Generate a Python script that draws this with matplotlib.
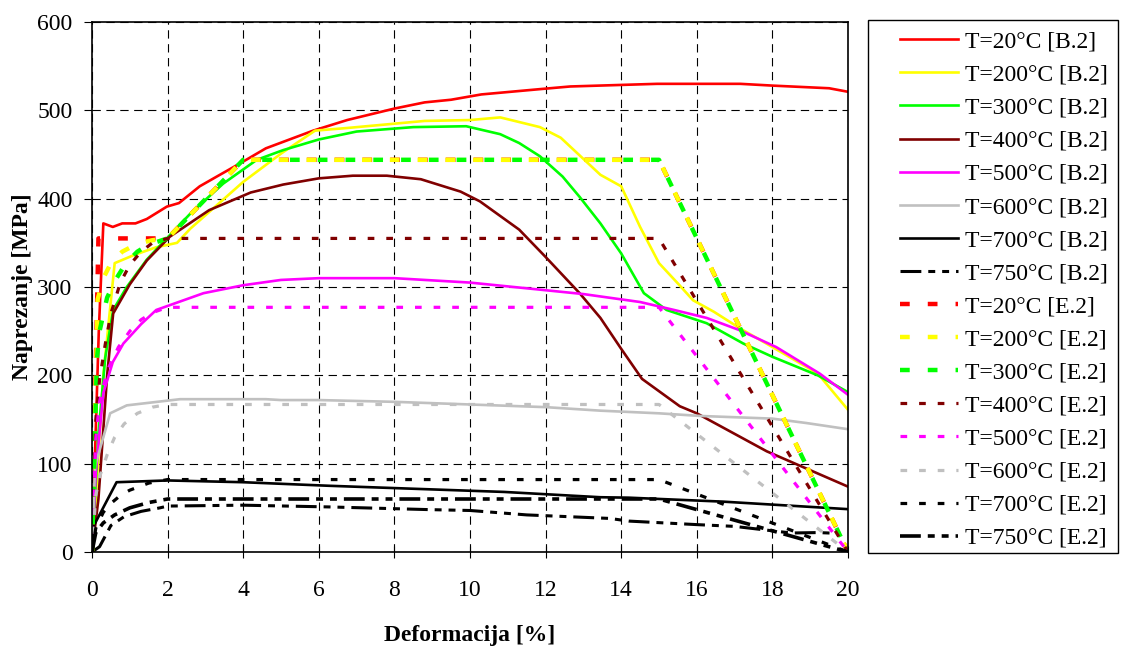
import matplotlib.pyplot as plt
from matplotlib.patches import Rectangle

plt.rcParams['font.family'] = ['Liberation Serif', 'DejaVu Serif']
plt.rcParams['lines.scale_dashes'] = False

# B.2 curves (strain %, stress MPa)
b20_x = [0, 0.18, 0.3, 0.55, 0.8, 1.15, 1.45, 1.98, 2.3, 2.85, 3.3, 4.0, 4.6, 5.85, 6.75, 8.0, 8.8, 9.5, 10.3, 11.85, 12.65, 14.95, 17.15, 18.0, 19.5, 20]
b20_y = [0, 250, 372, 368, 372, 372, 377, 391, 395, 414, 425, 442, 457, 477, 489, 502, 509, 512, 518, 524, 527, 530, 530, 528, 525, 521]

b200_x = [0, 0.1, 0.3, 0.6, 1.1, 1.7, 2.25, 2.6, 4.0, 5.0, 5.9, 6.75, 8.8, 10.0, 10.8, 11.85, 12.4, 12.9, 13.45, 14.0, 14.5, 15.0, 15.5, 15.9, 16.45, 17.15, 18.0, 19.2, 20]
b200_y = [0, 60, 200, 327, 336, 345, 350, 366, 419, 451, 477, 480, 488, 489, 492, 481, 469, 449, 427, 414, 368, 327, 304, 285, 272, 253, 232, 202, 161]

b300_x = [0, 0.17, 0.35, 0.56, 0.92, 1.45, 2.02, 2.6, 3.47, 4.36, 5.06, 6.0, 7.0, 8.5, 9.9, 10.8, 11.3, 11.85, 12.45, 12.9, 13.45, 14.0, 14.6, 15.2, 16.26, 17.23, 18.0, 19.2, 20]
b300_y = [0, 134, 220, 274, 300, 331, 357, 383, 417, 444, 455, 467, 476, 481, 482, 473, 463, 448, 425, 402, 372, 338, 293, 274, 259, 236, 221, 200, 181]

b400_x = [0, 0.17, 0.4, 0.56, 1.0, 1.45, 2.06, 3.1, 4.2, 5.06, 6.0, 6.9, 7.8, 8.7, 9.75, 10.26, 11.3, 12.0, 12.9, 13.45, 14.0, 14.55, 15.55, 16.0, 17.85, 20]
b400_y = [0, 60, 200, 270, 303, 330, 357, 387, 407, 416, 423, 426, 426, 422, 408, 397, 365, 334, 293, 265, 230, 196, 165, 157, 114, 74]

b500_x = [0, 0.1, 0.3, 0.55, 0.83, 1.3, 1.7, 2.95, 4.0, 5.0, 6.0, 8.0, 9.2, 10.0, 11.85, 13.0, 14.5, 15.4, 16.26, 17.14, 18.1, 19.25, 20]
b500_y = [0, 90, 180, 215, 236, 258, 274, 293, 302, 308, 310, 310, 307, 305, 297, 292, 283, 274, 265, 251, 232, 202, 178]

b600_x = [0, 0.08, 0.48, 0.92, 2.33, 4.6, 5.0, 6.0, 8.0, 10.0, 12.0, 13.45, 15.0, 16.1, 18.0, 18.9, 20]
b600_y = [0, 97, 157, 166, 173, 173, 172, 172, 170, 167, 164, 160, 157, 154, 151, 146, 139]

b700_x = [0, 0.05, 0.65, 2.0, 4.0, 6.25, 8.9, 10.9, 13.45, 14.2, 16.7, 20]
b700_y = [0, 30, 79, 81, 79, 75, 71, 68, 62, 61.5, 57, 48.5]

b750_x = [0, 0.2, 0.5, 0.85, 1.3, 1.8, 2.0, 4.0, 6.3, 8.9, 10.0, 11.5, 13.7, 14.2, 16.0, 17.0, 18.0, 18.5, 19.2, 19.8]
b750_y = [0, 6, 30, 40, 46, 50, 52, 53, 51, 48, 47, 42, 38, 35, 31, 29, 24, 21.5, 22, 21]

# E.2 curves
e20_x = [0, 0.17, 2.0, 4.0, 15.0, 20]
e20_y = [0, 355, 355, 444, 444, 0]

e200_x = [0, 0.15, 0.3, 0.5, 0.8, 1.2, 1.6, 2.0, 4.0, 15.0, 20]
e200_y = [0, 286, 310, 327, 340, 349, 353, 355, 444, 444, 0]

e300_x = [0, 0.13, 0.2, 0.4, 0.65, 0.9, 1.2, 1.5, 2.0, 4.0, 15.0, 20]
e300_y = [0, 218, 250, 288, 310, 327, 340, 348, 355, 444, 444, 0]

e400_x = [0, 0.1, 0.2, 0.35, 0.5, 0.75, 1.0, 1.3, 1.6, 2.0, 15.0, 20]
e400_y = [0, 149, 195, 235, 270, 305, 325, 340, 350, 355, 355, 0]

e500_x = [0, 0.1, 0.2, 0.4, 0.7, 1.0, 1.3, 1.6, 2.0, 15.0, 20]
e500_y = [0, 128, 170, 205, 232, 250, 263, 271, 277, 277, 0]

e600_x = [0, 0.1, 0.2, 0.4, 0.6, 0.85, 1.2, 1.6, 2.0, 15.0, 20]
e600_y = [0, 64, 85, 110, 130, 145, 157, 164, 167, 167, 0]

e700_x = [0, 0.1, 0.3, 0.5, 0.75, 1.0, 1.5, 2.0, 15.0, 20]
e700_y = [0, 27, 45, 55, 64, 70, 78, 82, 82, 0]

e750_x = [0, 0.1, 0.3, 0.6, 1.0, 1.5, 2.0, 15.0, 20]
e750_y = [0, 22, 33, 42, 50, 56, 60, 60, 0]

fig = plt.figure(figsize=(11.22, 6.47), dpi=100)
ax = fig.add_axes([92/1122, 1 - 552/647, (848 - 92)/1122, (552 - 22)/647])

solid = 1.9
ax.plot(b20_x, b20_y, color='#FF0000', lw=solid, label='T=20°C [B.2]')
ax.plot(b200_x, b200_y, color='#FFFF00', lw=solid, label='T=200°C [B.2]')
ax.plot(b300_x, b300_y, color='#00FF00', lw=solid, label='T=300°C [B.2]')
ax.plot(b400_x, b400_y, color='#800000', lw=solid, label='T=400°C [B.2]')
ax.plot(b500_x, b500_y, color='#FF00FF', lw=solid, label='T=500°C [B.2]')
ax.plot(b600_x, b600_y, color='#C0C0C0', lw=solid, label='T=600°C [B.2]')
ax.plot(b700_x, b700_y, color='black', lw=solid, label='T=700°C [B.2]')
ax.plot(b750_x, b750_y, color='black', lw=2.2, dashes=(15, 5, 5, 5, 5, 5), label='T=750°C [B.2]')

big = (7, 13)
small = (4.8, 8.6)
ax.plot(e20_x, e20_y, color='#FF0000', lw=3.2, dashes=big, label='T=20°C [E.2]')
ax.plot(e200_x, e200_y, color='#FFFF00', lw=3.2, dashes=big, label='T=200°C [E.2]')
ax.plot(e300_x, e300_y, color='#00FF00', lw=3.2, dashes=big, label='T=300°C [E.2]')
ax.plot(e400_x, e400_y, color='#800000', lw=2.3, dashes=small, label='T=400°C [E.2]')
ax.plot(e500_x, e500_y, color='#FF00FF', lw=2.3, dashes=small, label='T=500°C [E.2]')
ax.plot(e600_x, e600_y, color='#C0C0C0', lw=2.3, dashes=small, label='T=600°C [E.2]')
ax.plot(e700_x, e700_y, color='black', lw=2.3, dashes=small, label='T=700°C [E.2]')
ax.plot(e750_x, e750_y, color='black', lw=2.6, dashes=(15, 5, 5, 5, 5, 5), label='T=750°C [E.2]')

ax.set_xlim(0, 20)
ax.set_ylim(0, 600)
ax.set_xticks(range(0, 21, 2))
ax.set_yticks(range(0, 601, 100))
ax.tick_params(axis='x', direction='inout', length=9, labelsize=17, pad=16)
ax.tick_params(axis='y', direction='out', length=6, labelsize=17, pad=8)
ax.grid(True, color='black', lw=0.8, dashes=(6, 4))
ax.set_axisbelow(True)
for s in ax.spines.values():
    s.set_linewidth(1.2)
ax.set_xlabel('Deformacija [%]', fontsize=17, fontweight='bold', labelpad=17)
ax.set_ylabel('Naprezanje [MPa]', fontsize=17, fontweight='bold', labelpad=3)

leg = fig.legend(loc='upper left', bbox_to_anchor=(900/1122, 1 - 31/647), fontsize=17,
                 frameon=False, borderpad=0, borderaxespad=0, handlelength=2.45,
                 handletextpad=0.3, labelspacing=0.49)
fig.patches.append(Rectangle((868/1122, 1 - 553/647), 250/1122, 533/647,
                             transform=fig.transFigure, fill=False, ec='black', lw=1))

fig.savefig('out.png', dpi=100)
